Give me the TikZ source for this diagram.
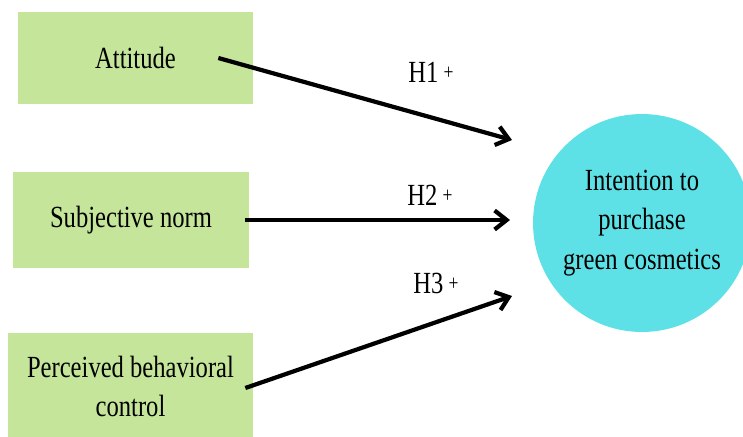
\documentclass[tikz,border=0pt]{standalone}
\usepackage{fontspec}
\newfontfamily\diagfont{Liberation Serif}[FakeStretch=0.8]
\usetikzlibrary{arrows.meta, positioning}
\definecolor{tpbGreen}{HTML}{C5E59A}
\definecolor{tpbCyan}{HTML}{5DE1E6}
\tikzset{
  factor/.style   = {rectangle, fill=tpbGreen, align=center, inner sep=0pt,
                     font={\diagfont\fontsize{17.5}{22}\selectfont}},
  outcome/.style  = {circle, fill=tpbCyan, minimum size=4.36cm, align=center,
                     inner sep=0pt, font={\diagfont\fontsize{17.5}{22.5}\selectfont}},
  hyparrow/.style = {-{Straight Barb[length=2.4mm, width=3.8mm]}, line width=2.4pt, black},
  hlbl/.style     = {inner sep=0pt, font={\diagfont\fontsize{17.5}{20}\selectfont}},
}
\newcommand{\hplus}{\,\raisebox{0.2ex}{\fontsize{12.5}{12.5}\selectfont+}}

\begin{document}
\begin{tikzpicture}[x=0.02cm, y=-0.02cm]
  \useasboundingbox (0,0) rectangle (743,436);
  \clip (0,0) rectangle (743,436);

  % the three antecedents and the outcome
  \node[factor, minimum width=4.7cm, minimum height=1.84cm] (att) at (135.5,58) {Attitude};
  \node[factor, minimum width=4.72cm, minimum height=1.92cm] (sn) at (131,220) {Subjective norm};
  \node[factor, minimum width=4.9cm, minimum height=2.14cm] (pbc) at (130.5,386.5)
    {Perceived behavioral\\control};
  \node[outcome] (int) at (642,223) {Intention to\\purchase\\green cosmetics};

  % arrow ends in front of the circle
  \coordinate (e1) at (512,140);
  \coordinate (e2) at (510,220);
  \coordinate (e3) at (512,296);

  \draw[hyparrow] ([xshift=-0.7cm]att.east) -- (e1);
  \draw[hyparrow] ([xshift=-0.08cm]sn.east) -- (e2);
  \draw[hyparrow] ([xshift=-0.16cm, yshift=-0.03cm]pbc.east) -- (e3);

  \node[hlbl] (h1) at (431,72) {H1\hplus};
  \node[hlbl] (h2) at (430,195) {H2\hplus};
  \node[hlbl] (h3) at (436,283) {H3\hplus};
\end{tikzpicture}
\end{document}
